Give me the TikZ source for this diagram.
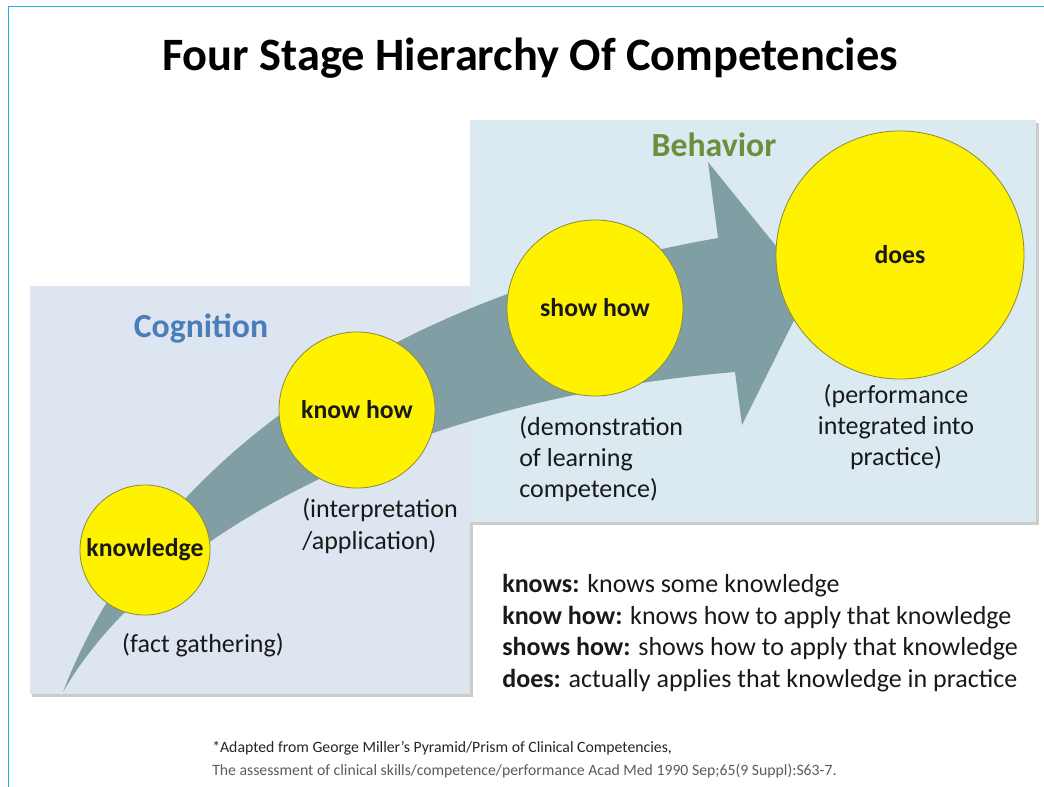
\documentclass[tikz,border=0pt]{standalone}
\usepackage{fontspec}
\setmainfont{Carlito}
\usetikzlibrary{positioning}

\definecolor{frameblue}{HTML}{1AAFEF}
\definecolor{cogfill}{HTML}{DCE5F0}
\definecolor{behfill}{HTML}{DBEAF1}
\definecolor{arrowgray}{HTML}{7C9BA0}
\definecolor{cogblue}{HTML}{4A7DBA}
\definecolor{behgreen}{HTML}{708D3D}
\definecolor{ringolive}{HTML}{8E8E3A}
\definecolor{notegray}{HTML}{5C5C5C}

\begin{document}
\begin{tikzpicture}[x=0.025cm,y=-0.025cm,
                    caption/.style={inner sep=0pt,text=black!90,font=\fontsize{18.5}{22.2}\selectfont},
                    heading/.style={inner sep=0pt,font=\fontsize{24}{28}\selectfont\bfseries},
                    panelshade/.style={fill=black!20}]
	\tikzstyle{stage}=[circle,fill=yellow,draw=ringolive,line width=0.6pt,inner sep=0pt,
	                   text=black!90,font=\fontsize{18.3}{21}\selectfont\bfseries]

	\fill[white] (0,0) rectangle (1044,787);
	\useasboundingbox (0,0) rectangle (1044,787);

	\node[inner sep=0pt,font=\fontsize{33}{38}\selectfont\bfseries] (title) at (530,58) {Four Stage Hierarchy Of Competencies};

	% the two panels
	\fill[panelshade] (32,289) rectangle (473,697);
	\fill[cogfill] (30,286) rectangle (470,694);
	\fill[panelshade] (472,123) rectangle (1039,525);
	\fill[behfill] (470,120) rectangle (1036,522);

	\node[heading,text=cogblue] (cog) at (201,328) {Cognition};
	\node[heading,text=behgreen] (beh) at (714,145) {Behavior};

	% the bent arrow behind the circles
	\fill[arrowgray,fill opacity=0.95] (63,692) .. controls (160,440) and (420,290) .. (718,238)
		-- (708,162) -- (810,288) -- (742,425) -- (735,372)
		.. controls (400,400) and (150,540) .. (63,692) -- cycle;

	\node[stage,minimum size=3.25cm] (know)    at (145,550) {knowledge};
	\node[stage,minimum size=3.9cm]  (knowhow) at (357,410) {know how};
	\node[stage,minimum size=4.4cm]  (showhow) at (595,308) {show how};
	\node[stage,minimum size=6.2cm]  (does)    at (900,255) {does};

	\node[caption] (factlbl) at (203,645) {(fact gathering)};
	\node[caption,anchor=west,align=left] (interplbl) at (302,526) {(interpretation\\/application)};
	\node[caption,anchor=west,align=left] (demolbl) at (519,459) {(demonstration\\of learning\\competence)};
	\node[caption,align=center] (perflbl) at (896,427) {(performance\\integrated into\\practice)};

	\node[caption,anchor=west,align=left,font=\fontsize{18.5}{22.4}\selectfont] (legend) at (502,633)
		{\textbf{knows:} knows some knowledge\\
		 \textbf{know how:} knows how to apply that knowledge\\
		 \textbf{shows how:} shows how to apply that knowledge\\
		 \textbf{does:} actually applies that knowledge in practice};

	\node[inner sep=0pt,anchor=west,align=left,font=\fontsize{11.2}{16.4}\selectfont] (note) at (212,760)
		{\textcolor{black!85}{*Adapted from George Miller’s Pyramid/Prism of Clinical Competencies,}\\
		 \textcolor{notegray}{The assessment of clinical skills/competence/performance Acad Med 1990 Sep;65(9 Suppl):S63-7.}};

	\draw[frameblue,line width=1.4pt] (8.5,787) -- (8.5,6.5) -- (1044,6.5);
\end{tikzpicture}
\end{document}
